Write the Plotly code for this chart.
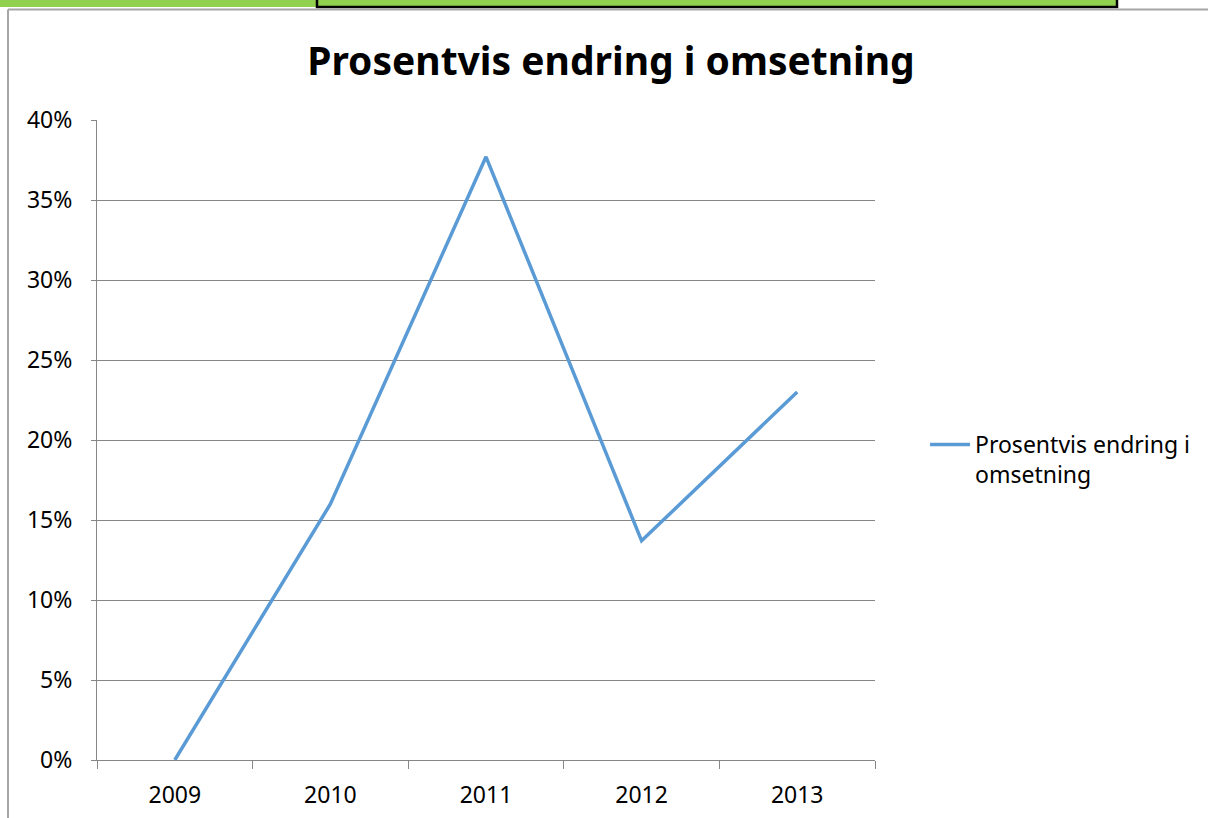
import plotly.graph_objects as go

# Annual percentage change in turnover
years = ["2009", "2010", "2011", "2012", "2013"]
change = [0.0, 0.160, 0.377, 0.137, 0.230]
series_name = "Prosentvis endring i<br>omsetning"
title_text = "Prosentvis endring i omsetning"

W, H = 1208, 818
L, R, T, B = 97, 875, 120, 760  # plot area in pixels


def px(x):
    return (x - L) / (R - L)


def py(y):
    return (B - y) / (B - T)


fig = go.Figure()
fig.add_trace(go.Scatter(
    x=years, y=change, mode="lines", name=series_name,
    line=dict(color="#5B9BD5", width=3.5),
    showlegend=True,
))

grey = "#868686"
font = "Noto Sans, Open Sans, sans-serif"

shapes = [
    # green ribbon along the top edge
    dict(type="rect", xref="paper", yref="paper",
         x0=px(0), x1=px(316), y0=py(-2), y1=py(7),
         fillcolor="#92D050", line=dict(width=0), layer="above"),
    dict(type="rect", xref="paper", yref="paper",
         x0=px(317), x1=px(1117), y0=py(-4), y1=py(7),
         fillcolor="#92D050", line=dict(color="#000000", width=2.5), layer="above"),
    # chart frame
    dict(type="line", xref="paper", yref="paper",
         x0=px(8), x1=px(1210), y0=py(9.5), y1=py(9.5),
         line=dict(color="#A6A6A6", width=2)),
    dict(type="line", xref="paper", yref="paper",
         x0=px(8), x1=px(8), y0=py(9.5), y1=py(820),
         line=dict(color="#A6A6A6", width=2)),
]

fig.update_layout(
    width=W, height=H,
    margin=dict(l=L, r=W - R, t=T, b=H - B, autoexpand=False),
    paper_bgcolor="white", plot_bgcolor="white",
    font=dict(family=font, size=23, color="#000000"),
    title=dict(text="<b>" + title_text + "</b>", x=611 / W, y=1 - 61 / H,
               xanchor="center", yanchor="middle",
               font=dict(family=font, size=39, color="#000000")),
    shapes=shapes,
    legend=dict(x=px(925), y=py(423), xanchor="left", yanchor="top",
                valign="top", bgcolor="rgba(0,0,0,0)",
                font=dict(family=font, size=23, color="#000000"),
                itemwidth=40),
    showlegend=True,
)

fig.update_xaxes(
    type="category", range=[-0.5, 4.5], automargin=False,
    showline=True, linecolor=grey, linewidth=1,
    ticks="outside", tickson="boundaries", ticklen=8, tickcolor=grey,
    showgrid=False, zeroline=False,
    ticklabelstandoff=14,
)
fig.update_yaxes(
    range=[0, 0.4], dtick=0.05, tickformat=".0%", automargin=False,
    showline=True, linecolor=grey, linewidth=1,
    ticks="outside", ticklen=5, tickcolor=grey,
    showgrid=True, gridcolor=grey, gridwidth=1, zeroline=False,
    ticklabelstandoff=14,
)

fig.write_html("out.html")
